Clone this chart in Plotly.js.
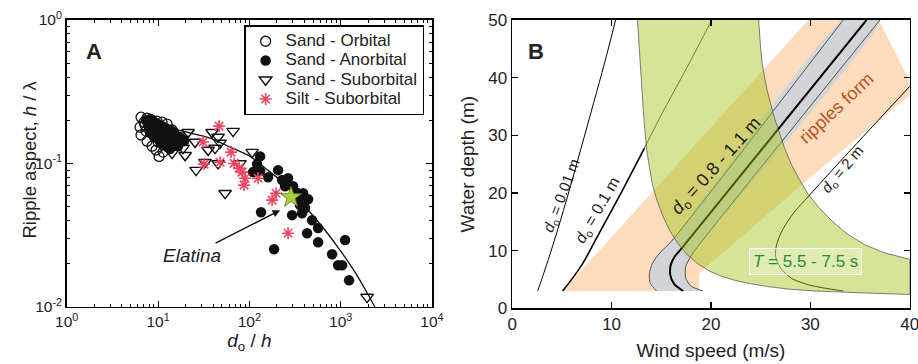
<!DOCTYPE html>
<html><head><meta charset="utf-8">
<script src="https://cdn.plot.ly/plotly-3.0.1.min.js"></script>
<style>html,body{margin:0;padding:0;background:#fff}#chart{width:918px;height:364px}</style>
</head><body><div id="chart"></div>
<script>
// ---------- Panel A data (d_o/h vs h/lambda) ----------
const orbitalX = [6.51,7.58,8.6,9.75,11.06,12.55,6.35,7.2,6.51,7.39,7.58,8.6,9.51,10.26,11.34,12.87,13.5,8.2,9.3,10.5,11.9,10.0,14.23,15.4,7.03];
const orbitalY = [0.210,0.207,0.200,0.197,0.194,0.188,0.179,0.185,0.158,0.168,0.143,0.132,0.124,0.112,0.120,0.130,0.145,0.176,0.155,0.168,0.163,0.141,0.171,0.153,0.194];

const anorbX = [7.39,8.2,9.04,10.0,11.06,12.23,13.5,14.97,7.77,8.6,9.51,10.5,11.63,12.87,14.23,15.75,8.2,9.04,10.0,11.06,12.23,17.4,16.56,13.5,19.27,10.5,9.3,
  131,121.4,109.8,131,160.2,206.2,228.1,265.4,301.1,387.4,439.5,359,293.6,377.7,486.1,428.5,565.5,565.5,1118,134.3,186.4,805,936.5,1036,1236,246,325,408,341.5];
const anorbY = [0.200,0.204,0.194,0.188,0.182,0.176,0.171,0.165,0.185,0.176,0.171,0.160,0.153,0.148,0.143,0.139,0.163,0.153,0.148,0.139,0.134,0.153,0.132,0.126,0.143,0.179,0.185,
  0.112,0.0989,0.0870,0.0884,0.0802,0.0898,0.0765,0.0789,0.0694,0.0620,0.0563,0.0512,0.0436,0.0450,0.0402,0.0326,0.0354,0.0282,0.0292,0.0457,0.0252,0.0233,0.0195,0.0195,0.0153,0.0694,0.0630,0.0488,0.0555];

const suborbX = [14.23,18.32,18.78,19.8,21.31,25.4,26.08,32.7,35.29,39.04,42.1,45.4,45.4,47.8,54.2,66.3,79.1,107.1,1946,11.06,12.87];
const suborbY = [0.118,0.148,0.128,0.114,0.165,0.141,0.0898,0.102,0.124,0.165,0.128,0.153,0.100,0.139,0.0620,0.168,0.100,0.120,0.0117,0.134,0.141];

const siltX = [46.6,31.1,63.0,31.9,47.8,68.0,77.1,83.2,89.8,87.5,124.5,196.1,177.3,265.4];
const siltY = [0.182,0.141,0.120,0.0989,0.102,0.100,0.0927,0.0870,0.0789,0.0706,0.0789,0.0620,0.0555,0.0326];

const elatinaX = [286];
const elatinaY = [0.0582];

const fitX = [13.5,22.4,37.1,61.5,102,149,217,317,462,675,986,1439,1995,2382];
const fitY = [0.176,0.163,0.150,0.130,0.112,0.0927,0.0765,0.0601,0.0457,0.0342,0.0248,0.0174,0.0122,0.0099];

const seriesNames = ['Sand - Orbital','Sand - Anorbital','Sand - Suborbital','Silt - Suborbital'];
const aTickVals = [1,10,100,1000,10000];
const aTickText = ['10<sup>0</sup>','10<sup>1</sup>','10<sup>2</sup>','10<sup>3</sup>','10<sup>4</sup>'];
const aYTickVals = [0.01,0.1,1];
const aYTickText = ['10<sup>-2</sup>','10<sup>-1</sup>','10<sup>0</sup>'];

// ---------- Panel B data (wind speed vs water depth) ----------
const greenX = [12.6,12.7,12.8,12.9,13.05,13.2,13.35,13.5,13.8,14.1,14.5,15.1,15.9,16.7,17.6,18.7,19.9,21,22.5,24,26,28,30.5,33,36.5,40,
  40,37.5,35.5,33.7,32.2,30.9,29.8,28.9,28.1,27.4,26.8,26.35,26.0,25.65,25.4,25.15,25.0,24.9,24.8];
const greenY = [50,47,44,41,38,34,31,27.8,24.5,21.5,19.1,16.2,13.3,11.2,9.3,7.7,6.4,5.6,4.8,4.25,3.7,3.3,3.0,2.8,2.6,2.4,
  8.5,9.6,11.0,12.9,15.1,17.4,19.7,22.3,24.9,27.8,30.7,33.2,35.5,37.8,40,42.5,45,47.5,50];

const orangeX = [5.07,18.8,18.8,19.2,29.1,33.3,40,40,36.9,29.8];
const orangeY = [3,3,6.0,6.7,21.4,27.5,36.9,39.4,50,50];

const grayLeftX = [14.53,13.9,13.8,14.1,14.9,16.0,33.3];
const grayLeftY = [3.0,4.3,6.0,7.8,9.7,11.6,50];
const grayRightX = [19.2,17.95,17.45,17.45,17.9,18.4,37.0];
const grayRightY = [3.0,3.9,5.3,7.2,8.8,10.1,50];
const grayMidX = [17.2,16.3,15.9,15.95,16.35,17.0,35.65];
const grayMidY = [3.0,4.2,5.8,7.5,9.0,10.3,50];

const d001X = [2.56,3.0,3.6,4.6,5.7,6.9,8.2,9.3,10.4];
const d001Y = [3,5.2,8.3,13.8,20.2,27.6,35.7,42.6,50];
const d01X = [5.07,6.99,8.66,10.67,13.3,15.2,17.56,20.08];
const d01Y = [3,7.5,12.75,19.1,27.8,34.2,41.7,50];
const d2X = [40,35,32,29.8,28.3,27.2,26.6,26.5,27.0,28.1,30.0,33.3];
const d2Y = [38.5,29.2,23.6,19.4,16.5,13.6,11.0,9.0,7.0,5.2,4.0,3.0];

// ---------- build ----------
const FONT = 'Liberation Sans, Arial, Helvetica, sans-serif';
const minorX = [], minorY = [];
for (let d = 0; d < 4; d++) for (let k = 2; k < 10; k++) minorX.push(k * Math.pow(10, d));
for (let d = -2; d < 0; d++) for (let k = 2; k < 10; k++) minorY.push(k * Math.pow(10, d));
const legName = s => '<span style="font-size:17px">' + s + '</span>';
const d01Split = 4; // where the d_o = 0.1 m curve enters the green band

const traces = [
  {x: fitX, y: fitY, xaxis:'x', yaxis:'y', mode:'lines', line:{color:'#111', width:1.3, shape:'spline', smoothing:0.8}, showlegend:false, hoverinfo:'skip'},
  {x: orbitalX, y: orbitalY, xaxis:'x', yaxis:'y', mode:'markers', name:legName(seriesNames[0]),
   marker:{symbol:'circle-open', size:10, color:'#111', line:{width:1.3, color:'#111'}}},
  {x: anorbX, y: anorbY, xaxis:'x', yaxis:'y', mode:'markers', name:legName(seriesNames[1]),
   marker:{symbol:'circle', size:10.5, color:'#111'}},
  {x: suborbX, y: suborbY, xaxis:'x', yaxis:'y', mode:'markers', name:legName(seriesNames[2]),
   marker:{symbol:'triangle-down-open', size:11, color:'#111', line:{width:1.4, color:'#111'}}},
  {x: siltX, y: siltY, xaxis:'x', yaxis:'y', mode:'markers', name:legName(seriesNames[3]),
   marker:{symbol:'asterisk-open', size:10, color:'#ec4560', line:{width:1.6, color:'#ec4560'}}},
  {x: elatinaX, y: elatinaY, xaxis:'x', yaxis:'y', mode:'markers', showlegend:false,
   marker:{symbol:'star', size:16, color:'#a8d13a', line:{width:0.8, color:'#5b7020'}}},

  // Panel B
  {x: orangeX, y: orangeY, xaxis:'x2', yaxis:'y2', mode:'lines', fill:'toself', fillcolor:'#fddcbd', line:{width:0}, showlegend:false, hoverinfo:'skip'},
  {x: grayLeftX.concat(grayRightX.slice().reverse()), y: grayLeftY.concat(grayRightY.slice().reverse()), xaxis:'x2', yaxis:'y2', mode:'lines', fill:'toself', fillcolor:'#d3d4d8', line:{width:0, shape:'spline', smoothing:0.5}, showlegend:false, hoverinfo:'skip'},
  {x: grayLeftX, y: grayLeftY, xaxis:'x2', yaxis:'y2', mode:'lines', line:{color:'#444', width:0.9, shape:'spline', smoothing:0.7}, showlegend:false, hoverinfo:'skip'},
  {x: grayRightX, y: grayRightY, xaxis:'x2', yaxis:'y2', mode:'lines', line:{color:'#444', width:0.9, shape:'spline', smoothing:0.7}, showlegend:false, hoverinfo:'skip'},
  {x: grayMidX, y: grayMidY, xaxis:'x2', yaxis:'y2', mode:'lines', line:{color:'#000', width:2, shape:'spline', smoothing:0.7}, showlegend:false, hoverinfo:'skip'},
  {x: d001X, y: d001Y, xaxis:'x2', yaxis:'y2', mode:'lines', line:{color:'#000', width:1, shape:'spline'}, showlegend:false, hoverinfo:'skip'},
  {x: d01X.slice(0, d01Split + 1), y: d01Y.slice(0, d01Split + 1), xaxis:'x2', yaxis:'y2', mode:'lines', line:{color:'#000', width:1.6, shape:'spline'}, showlegend:false, hoverinfo:'skip'},
  {x: d01X.slice(d01Split), y: d01Y.slice(d01Split), xaxis:'x2', yaxis:'y2', mode:'lines', line:{color:'#333', width:0.9, shape:'spline'}, showlegend:false, hoverinfo:'skip'},
  {x: d2X, y: d2Y, xaxis:'x2', yaxis:'y2', mode:'lines', line:{color:'#000', width:1, shape:'spline', smoothing:0.8}, showlegend:false, hoverinfo:'skip'},
  {x: greenX, y: greenY, xaxis:'x2', yaxis:'y2', mode:'lines', fill:'toself', fillcolor:'rgba(162,196,22,0.45)', line:{color:'rgba(80,80,80,0.8)', width:0.9}, showlegend:false, hoverinfo:'skip'}
];

const axA = {showline:true, linecolor:'#000', linewidth:1.6, mirror:'allticks', ticks:'inside', ticklen:6, tickwidth:1, tickcolor:'#000',
  showgrid:false, zeroline:false, tickfont:{size:15.5, color:'#222', family:FONT}};
const axB = {showline:true, linecolor:'#000', linewidth:1.6, mirror:'ticks', ticks:'inside', ticklen:6, tickwidth:1.2, tickcolor:'#000',
  showgrid:false, zeroline:false, tickfont:{size:17, color:'#222', family:FONT}, dtick:10, ticklabeloverflow:'allow'};

const layout = {
  width:918, height:364, margin:{l:0, r:0, t:0, b:0}, paper_bgcolor:'#fff', plot_bgcolor:'#fff',
  font:{family:FONT, color:'#222'},
  showlegend:true,
  xaxis: Object.assign({}, axA, {type:'log', range:[0,4], domain:[0.0727,0.4706], anchor:'y',
    tickmode:'array', tickvals:aTickVals, ticktext:aTickText,
    minor:{tickmode:'array', tickvals:minorX, ticks:'inside', ticklen:3, tickcolor:'#000', showgrid:false},
    title:{text:'<i>d</i><sub>o</sub> / <i>h</i>', font:{size:19, family:FONT, color:'#222'}, standoff:2}}),
  yaxis: Object.assign({}, axA, {type:'log', range:[-2,0], domain:[0.157,0.945], anchor:'x',
    tickmode:'array', tickvals:aYTickVals, ticktext:aYTickText, ticklabelstandoff:0,
    minor:{tickmode:'array', tickvals:minorY, ticks:'inside', ticklen:3, tickcolor:'#000', showgrid:false}}),
  xaxis2: Object.assign({}, axB, {range:[0,40], domain:[0.558,0.991], anchor:'y2',
    title:{text:'Wind speed (m/s)', font:{size:19, family:FONT, color:'#222'}, standoff:10}}),
  yaxis2: Object.assign({}, axB, {range:[0,50], domain:[0.153,0.945], anchor:'x2',
    title:{text:'Water depth (m)', font:{size:19, family:FONT, color:'#222'}, standoff:8}}),
  legend:{x:0.462, xanchor:'right', y:0.931, yanchor:'top', bgcolor:'#fff', bordercolor:'#000', borderwidth:1.5,
    font:{size:12.5, family:FONT, color:'#222'}, tracegroupgap:0, itemwidth:30},
  annotations:[
    {text:'Ripple aspect, <i>h</i> / λ', xref:'paper', yref:'paper', x:16/918, y:1-160/364, textangle:-90, showarrow:false,
     font:{size:18.5, color:'#222'}},
    {text:'<b>A</b>', xref:'paper', yref:'paper', x:83.5/918, y:1-37/364, showarrow:false, font:{size:22, color:'#222'}},
    {text:'<b>B</b>', xref:'paper', yref:'paper', x:536/918, y:1-37/364, showarrow:false, font:{size:22, color:'#222'}},
    {text:'<i>Elatina</i>', xref:'x', yref:'y', x:Math.log10(217), y:Math.log10(0.0472), ax:-88, ay:45,
     showarrow:true, arrowhead:2, arrowsize:1, arrowwidth:1.5, arrowcolor:'#111', font:{size:19, color:'#222'}},
    {text:'<i>d</i><sub>o</sub> = 0.01 m', xref:'x2', yref:'y2', x:5.0, y:19.6, textangle:-69, showarrow:false, font:{size:15, color:'#222'}},
    {text:'<i>d</i><sub>o</sub> = 0.1 m', xref:'x2', yref:'y2', x:8.6, y:17.0, textangle:-60, showarrow:false, font:{size:16, color:'#222'}},
    {text:'<i>d</i><sub>o</sub> = 0.8 - 1.1 m', xref:'x2', yref:'y2', x:20.6, y:24.6, textangle:-48, showarrow:false, font:{size:18, color:'#222'}},
    {text:'ripples form', xref:'x2', yref:'y2', x:32.6, y:34.8, textangle:-43, showarrow:false, font:{size:18, color:'#b5561e'}},
    {text:'<i>d</i><sub>o</sub> = 2 m', xref:'x2', yref:'y2', x:33.3, y:24.0, textangle:-50, showarrow:false, font:{size:15, color:'#222'}},
    {text:'<i>T</i> = 5.5 - 7.5 s', xref:'x2', yref:'y2', x:29.56, y:8.05, showarrow:false, font:{size:17, color:'#2a8a3c'},
     bgcolor:'rgba(255,255,255,0.3)', bordercolor:'rgba(255,255,255,0.9)', borderwidth:1, borderpad:3}
  ]
};

Plotly.newPlot('chart', traces, layout, {staticPlot:true, displayModeBar:false});
</script>
</body></html>
